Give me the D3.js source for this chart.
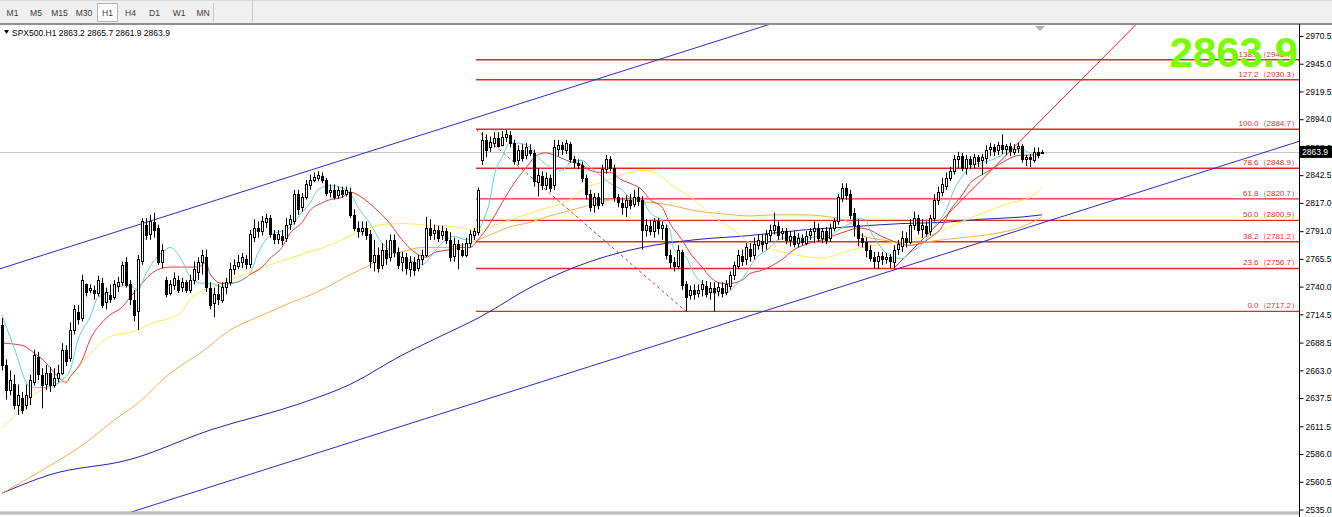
<!DOCTYPE html>
<html><head><meta charset="utf-8">
<script src="https://cdn.jsdelivr.net/npm/d3@7"></script>
<style>body{margin:0;background:#fff;overflow:hidden}svg{display:block}text{font-family:"Liberation Sans",Arial,sans-serif}</style>
</head><body><svg id="c" width="1332" height="517"></svg>
<script>
// ---------- data ----------
const timeframes = ["M1","M5","M15","M30","H1","H4","D1","W1","MN"];
const activeTf = "H1";
const symbol = "SPX500.H1";
const opens = [
2705,2668,2645,2650,2631,2638,2631,2638,2652,2675,
2659,2651,2661,2650,2656,2661,2682,2674,2700,2717,
2711,2742,2737,2737,2734,2743,2726,2732,2730,2740,
2744,2763,2742,2728,2717,2763,2797,2788,2799,2794,
2763,2746,2734,2742,2746,2739,2744,2737,2746,2754,
2763,2767,2739,2725,2733,2728,2739,2744,2756,2759,
2762,2765,2760,2786,2794,2791,2799,2803,2788,2783,
2787,2785,2797,2800,2825,2813,2822,2833,2838,2840,
2842,2838,2827,2829,2824,2829,2825,2827,2806,2794,
2791,2794,2788,2763,2769,2760,2774,2767,2783,2772,
2762,2767,2757,2763,2757,2765,2769,2794,2789,2792,
2787,2791,2783,2768,2779,2774,2769,2780,2787,2790,
2857,2875,2868,2872,2877,2871,2877,2879,2872,2857,
2866,2861,2866,2863,2837,2842,2834,2840,2833,2866,
2870,2866,2871,2857,2854,2852,2840,2825,2815,2822,
2817,2848,2857,2849,2822,2817,2814,2820,2816,2822,
2820,2792,2796,2791,2800,2794,2794,2769,2763,2759,
2772,2742,2732,2737,2734,2737,2741,2735,2739,2736,
2739,2735,2741,2751,2759,2768,2765,2775,2769,2778,
2782,2780,2787,2792,2796,2789,2791,2783,2787,2780,
2785,2781,2787,2791,2794,2785,2791,2785,2794,2800,
2822,2831,2825,2808,2797,2785,2781,2774,2767,2763,
2768,2765,2767,2763,2774,2778,2785,2781,2797,2803,
2793,2796,2791,2803,2820,2827,2833,2840,2846,2857,
2860,2849,2857,2853,2859,2856,2859,2866,2868,2865,
2870,2866,2869,2864,2867,2869,2857,2859,2857,2864,
2863.2];
const highs = [
2711,2673,2663,2659,2650,2643,2650,2659,2682,2680,
2665,2668,2666,2665,2668,2688,2686,2707,2723,2723,
2751,2743,2742,2741,2750,2748,2739,2742,2746,2749,
2763,2767,2746,2737,2769,2803,2803,2806,2808,2797,
2779,2749,2746,2753,2750,2748,2746,2751,2763,2767,
2774,2774,2744,2739,2742,2744,2748,2762,2765,2769,
2771,2769,2792,2802,2800,2805,2807,2806,2792,2792,
2792,2803,2806,2829,2829,2826,2838,2843,2845,2846,
2845,2840,2834,2834,2832,2832,2832,2831,2811,2800,
2800,2800,2792,2783,2776,2780,2783,2788,2788,2776,
2772,2771,2768,2767,2769,2774,2804,2802,2797,2796,
2796,2794,2790,2785,2783,2780,2785,2792,2794,2831,
2882,2880,2878,2882,2882,2883,2884,2883,2875,2870,
2871,2872,2871,2866,2849,2846,2845,2843,2875,2875,
2873,2875,2873,2860,2857,2855,2843,2829,2826,2826,
2852,2861,2860,2852,2825,2822,2824,2825,2829,2831,
2823,2802,2801,2803,2803,2800,2797,2774,2767,2778,
2774,2745,2741,2742,2742,2746,2745,2744,2744,2744,
2744,2746,2754,2763,2774,2774,2780,2780,2785,2788,
2788,2792,2797,2808,2800,2794,2794,2791,2791,2789,
2788,2791,2794,2800,2798,2794,2795,2798,2803,2825,
2835,2835,2829,2812,2802,2789,2785,2778,2772,2772,
2772,2771,2770,2778,2783,2791,2790,2802,2809,2806,
2802,2800,2806,2825,2832,2840,2845,2850,2861,2864,
2863,2861,2860,2862,2861,2862,2870,2872,2871,2873,
2880,2871,2872,2871,2872,2871,2861,2862,2868,2868,
2865.7];
const lows = [
2663,2636,2640,2627,2622,2623,2627,2631,2649,2654,
2628,2645,2643,2647,2652,2659,2667,2671,2696,2705,
2708,2731,2734,2728,2731,2720,2719,2725,2728,2735,
2741,2739,2723,2708,2700,2760,2783,2783,2785,2760,
2757,2730,2732,2737,2734,2735,2734,2734,2742,2746,
2751,2735,2719,2712,2723,2725,2733,2741,2751,2756,
2757,2756,2757,2781,2785,2787,2794,2785,2779,2779,
2778,2781,2792,2797,2806,2809,2820,2829,2836,2837,
2835,2823,2822,2820,2821,2822,2823,2803,2791,2785,
2787,2783,2757,2754,2753,2756,2760,2763,2767,2756,
2754,2751,2749,2750,2754,2760,2767,2783,2783,2781,
2783,2779,2763,2763,2756,2767,2767,2776,2783,2787,
2852,2859,2864,2868,2868,2869,2873,2868,2852,2852,
2855,2857,2860,2832,2823,2829,2829,2827,2829,2860,
2861,2862,2854,2849,2848,2836,2820,2809,2808,2811,
2814,2844,2846,2818,2813,2806,2804,2811,2813,2814,
2774,2786,2787,2785,2788,2783,2765,2757,2754,2756,
2737,2717,2728,2728,2730,2731,2730,2728,2717,2731,
2730,2732,2737,2746,2756,2759,2760,2763,2765,2774,
2772,2774,2781,2788,2783,2783,2779,2777,2776,2776,
2778,2778,2783,2780,2781,2780,2779,2781,2791,2797,
2818,2820,2802,2786,2777,2776,2767,2763,2757,2756,
2760,2761,2757,2757,2769,2772,2776,2779,2792,2788,
2785,2786,2787,2800,2815,2823,2829,2837,2843,2849,
2846,2843,2848,2849,2850,2843,2853,2860,2860,2861,
2862,2861,2860,2861,2863,2854,2851,2850,2854,2858,
2861.9];
const closes = [
2668,2645,2654,2631,2640,2627,2640,2654,2677,2659,
2650,2661,2650,2656,2661,2682,2672,2700,2719,2711,
2746,2735,2739,2734,2746,2723,2735,2728,2742,2744,
2760,2742,2728,2714,2765,2800,2788,2800,2792,2763,
2774,2733,2742,2748,2737,2744,2737,2746,2756,2763,
2769,2739,2723,2733,2728,2740,2744,2756,2760,2763,
2767,2760,2788,2794,2791,2800,2803,2788,2783,2788,
2783,2797,2802,2825,2811,2822,2834,2838,2841,2843,
2838,2826,2829,2823,2829,2825,2829,2806,2794,2791,
2794,2788,2763,2769,2757,2774,2767,2783,2772,2760,
2767,2757,2763,2756,2765,2769,2794,2788,2792,2785,
2791,2783,2767,2779,2774,2769,2780,2788,2791,2829,
2875,2866,2873,2877,2870,2878,2880,2872,2855,2866,
2859,2868,2863,2837,2843,2834,2840,2831,2868,2870,
2866,2872,2857,2854,2852,2840,2825,2813,2822,2815,
2848,2857,2849,2822,2817,2813,2820,2815,2822,2818,
2792,2797,2791,2800,2794,2797,2769,2763,2759,2774,
2742,2730,2737,2733,2737,2742,2734,2739,2735,2740,
2734,2742,2751,2760,2769,2763,2776,2769,2779,2783,
2779,2788,2792,2797,2788,2791,2783,2787,2780,2785,
2781,2787,2791,2794,2785,2791,2783,2794,2800,2822,
2831,2825,2806,2797,2785,2781,2774,2767,2763,2768,
2765,2767,2763,2774,2779,2785,2781,2797,2803,2792,
2797,2790,2803,2820,2827,2834,2840,2846,2857,2860,
2849,2857,2852,2859,2855,2859,2866,2868,2864,2870,
2866,2869,2864,2867,2869,2857,2859,2857,2864,2861,
2863.9];

// moving averages: [bar index, price]
const maFast = [[0,2714],[3,2684],[7,2648],[10,2647],[12,2648],[15,2654],[17,2663],[19,2691],[22,2712],[24,2730],[27,2735],[29,2740],[32,2741],[34,2737],[36,2752],[38,2764],[41,2774],[42,2776],[45,2764],[47,2749],[50,2743],[52,2743],[55,2740],[57,2743],[60,2746],[62,2752],[64,2771],[67,2787],[69,2790],[72,2794],[74,2804],[77,2817],[79,2829],[82,2833],[84,2832],[87,2826],[89,2813],[92,2798],[95,2780],[98,2771],[102,2764],[105,2760],[107,2767],[110,2780],[113,2786],[116,2783],[118,2786],[120,2798],[122,2820],[123,2841],[125,2859],[127,2872],[129,2872],[132,2868],[134,2859],[137,2850],[140,2847],[142,2854],[145,2856],[147,2850],[150,2841],[152,2835],[155,2829],[157,2822],[160,2820],[162,2808],[165,2801],[167,2792],[168,2774],[171,2767],[173,2752],[176,2740],[178,2734],[181,2734],[183,2740],[186,2752],[188,2764],[192,2776],[194,2783],[197,2785],[199,2785],[202,2785],[204,2786],[207,2787],[209,2792],[212,2798],[214,2803],[216,2801],[217,2792],[219,2780],[221,2771],[223,2767],[225,2766],[227,2771],[231,2783],[233,2795],[236,2810],[238,2829],[240,2841],[242,2850],[245,2854],[247,2856],[250,2861],[252,2866],[255,2866],[257,2863],[260,2863]];
const maRed = [[0,2688],[5,2686],[8,2679],[11,2670],[13,2661],[16,2652],[17,2657],[20,2672],[22,2691],[25,2707],[27,2714],[30,2721],[32,2730],[35,2743],[37,2751],[40,2757],[42,2758],[46,2758],[49,2758],[51,2762],[52,2752],[55,2743],[57,2743],[60,2746],[62,2751],[65,2758],[67,2766],[70,2776],[72,2789],[75,2799],[77,2810],[80,2817],[82,2820],[85,2822],[87,2827],[90,2822],[93,2813],[97,2798],[100,2783],[103,2772],[106,2767],[108,2771],[112,2774],[115,2776],[117,2776],[119,2783],[122,2798],[125,2817],[128,2835],[132,2854],[133,2859],[136,2863],[138,2861],[140,2858],[142,2855],[145,2852],[147,2847],[150,2845],[152,2845],[155,2838],[157,2835],[160,2829],[162,2820],[165,2813],[167,2798],[170,2783],[172,2771],[175,2758],[177,2749],[180,2743],[182,2743],[185,2746],[187,2752],[190,2755],[195,2765],[198,2774],[202,2780],[205,2783],[208,2787],[212,2792],[214,2794],[217,2792],[220,2786],[222,2783],[224,2780],[227,2778],[230,2780],[232,2785],[235,2795],[237,2810],[240,2824],[242,2835],[245,2843],[247,2847],[250,2854],[252,2858],[255,2861],[257,2861],[260,2863]];
const maYellow = [[0,2610],[3,2620],[7,2638],[12,2648],[17,2657],[20,2670],[23,2682],[27,2694],[32,2698],[35,2702],[38,2707],[42,2711],[45,2717],[47,2728],[52,2739],[57,2746],[62,2753],[67,2760],[72,2766],[77,2772],[82,2778],[87,2787],[92,2794],[95,2797],[100,2798],[105,2797],[110,2796],[115,2794],[119,2791],[122,2795],[125,2799],[130,2805],[135,2811],[142,2820],[146,2831],[150,2836],[155,2843],[160,2847],[163,2845],[168,2832],[173,2820],[178,2804],[183,2792],[187,2780],[190,2777],[196,2771],[202,2767],[205,2766],[210,2771],[215,2776],[222,2780],[227,2783],[232,2787],[237,2795],[242,2803],[247,2810],[252,2817],[257,2822],[260,2831]];
const maOrange = [[0,2550],[10,2571],[20,2594],[28,2617],[35,2636],[40,2654],[45,2668],[50,2680],[57,2700],[62,2709],[67,2717],[72,2725],[77,2732],[82,2741],[87,2751],[92,2760],[95,2767],[100,2772],[105,2776],[110,2776],[115,2778],[119,2783],[123,2789],[127,2795],[132,2799],[136,2804],[140,2808],[147,2815],[153,2820],[160,2818],[167,2815],[173,2810],[180,2807],[187,2805],[193,2806],[200,2806],[207,2804],[212,2799],[215,2787],[220,2783],[225,2781],[230,2781],[235,2783],[240,2785],[245,2787],[250,2790],[255,2795],[260,2804]];
const maBlue = [[0,2550],[12,2567],[32,2581],[52,2608],[75,2633],[87,2650],[100,2677],[110,2695],[119,2711],[133,2741],[147,2763],[160,2776],[173,2783],[187,2787],[200,2792],[212,2795],[225,2798],[235,2799],[245,2802],[255,2804],[260,2806]];

// drawn objects
const channelUpper = [[0,2757],[190,2979]];
const channelLower = [[31.75,2532],[323.75,2873]];
const trendRed = [[223,2757],[260,2894]];
const fibStartBar = 118.5;
const fibDiagonal = [[118.5,2884.7],[171,2717.2]];
const fibLevels = [0.0,23.6,38.2,50.0,61.8,78.6,100.0,127.2,138.2];
const fibPrices = [2717.2,2756.7,2781.2,2800.9,2820.7,2848.9,2884.7,2930.3,2948.7];
const axisTicks = [2970.5,2945.0,2919.5,2894.0,2868.0,2842.5,2817.0,2791.0,2765.5,2740.0,2714.5,2688.5,2663.0,2637.5,2611.5,2586.0,2560.5,2535.0];
const lastPrice = 2863.9;

// ---------- drawing ----------
const svg = d3.select("#c");
const W = 1332, H = 517, plotR = 1299, plotT = 25, plotB = 512;
const xs = d3.scaleLinear().domain([0,260]).range([2,1042]);
const ys = d3.scaleLinear().domain([2535,2970.5]).range([509.5,36]);

// toolbar
svg.append("rect").attr("x",0).attr("y",0).attr("width",W).attr("height",23).attr("fill","#f0f0f0");
svg.append("line").attr("x1",0).attr("x2",W).attr("y1",0.5).attr("y2",0.5).attr("stroke","#d8d8d8");
const tfX = [12.5,36,59.5,84,107.5,130.5,154.5,179,203];
svg.append("rect").attr("x",97.5).attr("y",3.5).attr("width",20).attr("height",18).attr("fill","#fff").attr("stroke","#b5b5b5");
svg.append("g").selectAll("text").data(timeframes).join("text")
  .attr("x",(d,i)=>tfX[i]).attr("y",16).attr("text-anchor","middle")
  .attr("font-size",8.5).attr("fill","#3a3a3a").text(d=>d);
svg.append("line").attr("x1",213.5).attr("x2",213.5).attr("y1",3).attr("y2",22).attr("stroke","#c8c8c8");
svg.append("line").attr("x1",252.5).attr("x2",252.5).attr("y1",0).attr("y2",22).attr("stroke","#c8c8c8");
svg.append("line").attr("x1",0).attr("x2",W).attr("y1",24).attr("y2",24).attr("stroke","#222").attr("stroke-width",1.2);

// clip
svg.append("defs").append("clipPath").attr("id","plot").append("rect")
  .attr("x",0).attr("y",plotT).attr("width",plotR).attr("height",plotB-plotT);
const g = svg.append("g").attr("clip-path","url(#plot)");

// current price line
g.append("line").attr("x1",0).attr("x2",plotR).attr("y1",Math.round(ys(lastPrice))+0.5).attr("y2",Math.round(ys(lastPrice))+0.5)
  .attr("stroke","#c6c6c6");

// fib levels
const fibX0 = xs(fibStartBar);
g.append("g").selectAll("line").data(fibPrices).join("line")
  .attr("x1",fibX0).attr("x2",plotR).attr("y1",d=>ys(d)).attr("y2",d=>ys(d))
  .attr("stroke","#e02828").attr("stroke-width",1.4);
g.append("line").attr("x1",xs(fibDiagonal[0][0])).attr("y1",ys(fibDiagonal[0][1]))
  .attr("x2",xs(fibDiagonal[1][0])).attr("y2",ys(fibDiagonal[1][1]))
  .attr("stroke","#e02828").attr("stroke-dasharray","3,3");

// helper: extend a line through two points
function extend(p, i0, i1){
  const k = (p[1][1]-p[0][1])/(p[1][0]-p[0][0]);
  return [[i0, p[0][1]+k*(i0-p[0][0])],[i1, p[0][1]+k*(i1-p[0][0])]];
}
const seg = d3.line().x(d=>xs(d[0])).y(d=>ys(d[1]));
g.append("path").attr("d",seg(extend(channelUpper,-5,330))).attr("stroke","#2b2bcc").attr("fill","none");
g.append("path").attr("d",seg(extend(channelLower,-5,330))).attr("stroke","#2b2bcc").attr("fill","none");
g.append("path").attr("d",seg(extend(trendRed,trendRed[0][0],330))).attr("stroke","#e82020").attr("fill","none");

// moving averages
const maLine = d3.line().x(d=>xs(d[0])).y(d=>ys(d[1])).curve(d3.curveMonotoneX);
[[maBlue,"#2525b0"],[maOrange,"#f5b04e"],[maYellow,"#f7ee55"],[maRed,"#e8403a"],[maFast,"#5fd4d4"]].forEach(([d,c])=>{
  g.append("path").attr("d",maLine(d)).attr("stroke",c).attr("fill","none").attr("stroke-width",1);
});

// candles
const idx = d3.range(closes.length);
const cx = i => Math.round(xs(i))+0.5;
const cg = g.append("g");
cg.selectAll("line").data(idx).join("line")
  .attr("x1",cx).attr("x2",cx).attr("y1",i=>ys(highs[i])).attr("y2",i=>ys(lows[i]))
  .attr("stroke","#000").attr("stroke-width",1);
cg.selectAll("rect").data(idx).join("rect")
  .attr("x",i=>cx(i)-1).attr("width",2)
  .attr("y",i=>Math.round(ys(Math.max(opens[i],closes[i])))+0.5)
  .attr("height",i=>Math.max(0.01,Math.round(Math.abs(ys(opens[i])-ys(closes[i])))))
  .attr("fill",i=>closes[i]>=opens[i]?"#fff":"#000")
  .attr("stroke","#000").attr("stroke-width",1);

// fib labels
svg.append("g").selectAll("text").data(fibLevels).join("text")
  .attr("x",1299).attr("y",(d,i)=>ys(fibPrices[i])-3).attr("text-anchor","end")
  .attr("font-size",8).attr("fill","#e53030")
  .text((d,i)=>d.toFixed(1)+"（"+fibPrices[i].toFixed(1)+"）");

// shift marker
svg.append("path").attr("d","M1035,26 L1045,26 L1040,31 Z").attr("fill","#b0b0b0");

// bottom bar
svg.append("rect").attr("x",0).attr("y",511.5).attr("width",plotR).attr("height",3).attr("fill","#a8a8a8");
svg.append("line").attr("x1",0).attr("x2",plotR).attr("y1",513).attr("y2",513).attr("stroke","#d0d0d0");

// right axis
const ax = d3.axisRight(ys).tickValues(axisTicks).tickSize(4).tickPadding(2).tickFormat(d3.format(".1f"));
const axg = svg.append("g").attr("transform",`translate(${plotR+0.5},0)`).call(ax);
axg.select(".domain").remove();
axg.selectAll("text").attr("font-size",8.5).attr("fill","#000").attr("font-family","'Liberation Sans',Arial,sans-serif");
axg.selectAll("line").attr("stroke","#000");
svg.append("line").attr("x1",plotR+0.5).attr("x2",plotR+0.5).attr("y1",24).attr("y2",H).attr("stroke","#000");

// last price tag
const ly = ys(lastPrice);
svg.append("rect").attr("x",plotR+1).attr("y",ly-6).attr("width",W-plotR-1).attr("height",12).attr("fill","#000");
svg.append("text").attr("x",plotR+3).attr("y",ly+3).attr("font-size",8.5).attr("fill","#fff").text(lastPrice.toFixed(1));

// title
svg.append("path").attr("d","M4,30 L9,30 L6.5,34 Z").attr("fill","#000");
svg.append("text").attr("x",12).attr("y",36).attr("font-size",8.5).attr("fill","#000")
  .text(`${symbol}  ${opens[opens.length-1].toFixed(1)} ${highs[highs.length-1].toFixed(1)} ${lows[lows.length-1].toFixed(1)} ${closes[closes.length-1].toFixed(1)}`);

// big price label
svg.append("text").attr("x",1298).attr("y",67).attr("text-anchor","end")
  .attr("font-size",42).attr("font-weight","bold").attr("fill","#7cfc00").text(lastPrice.toFixed(1));
</script></body></html>
